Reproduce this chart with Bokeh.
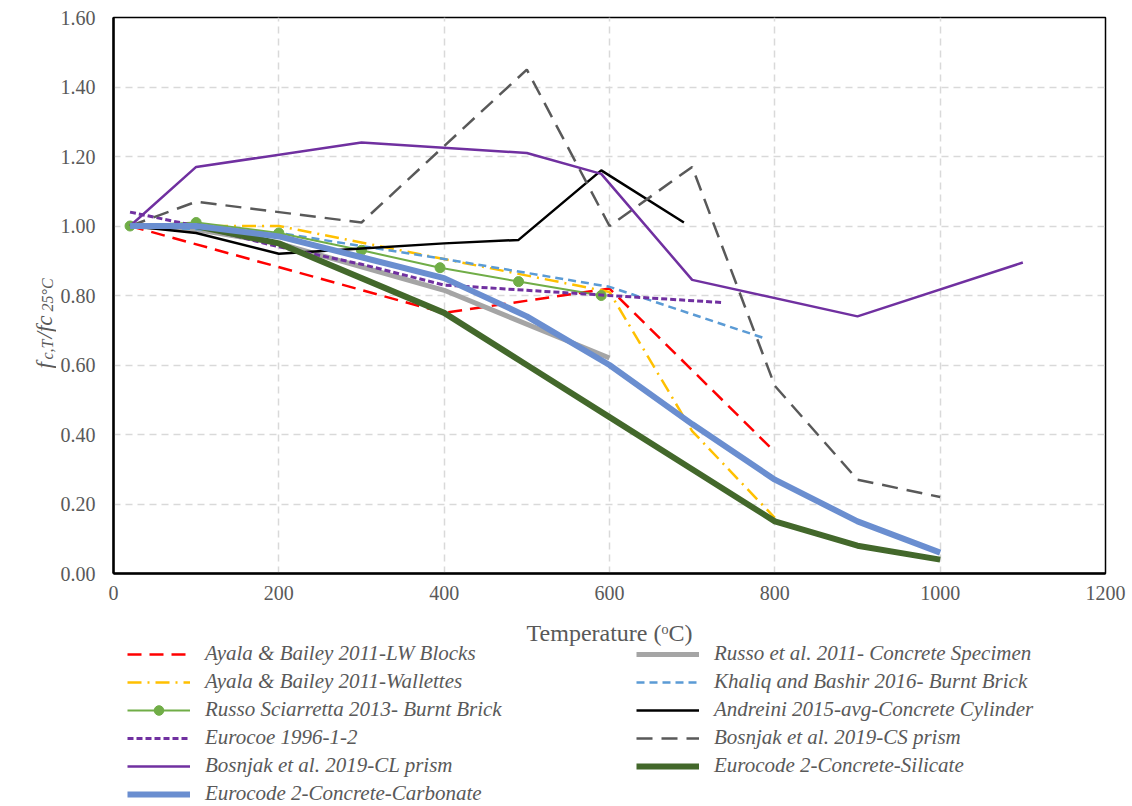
from math import pi

from bokeh.core.properties import value
from bokeh.embed import file_html
from bokeh.layouts import column, row
from bokeh.models import (ColumnDataSource, FixedTicker, Legend, LegendItem,
                          NumeralTickFormatter, Range1d)
from bokeh.plotting import figure
from bokeh.resources import INLINE

# Relative compressive strength f_c,T / f_c,25°C against temperature (°C)
ayala_lw_t = [20, 400, 600, 800]
ayala_lw_r = [1.00, 0.75, 0.82, 0.35]

russo_2011_t = [20, 100, 200, 400, 600]
russo_2011_r = [1.00, 0.99, 0.95, 0.815, 0.62]

ayala_wal_t = [20, 200, 600, 700, 800]
ayala_wal_r = [1.00, 1.00, 0.81, 0.41, 0.16]

khaliq_t = [20, 200, 400, 600, 790]
khaliq_r = [1.00, 0.98, 0.905, 0.825, 0.675]

russo_sc_t = [20, 100, 200, 300, 395, 490, 590]
russo_sc_r = [1.00, 1.01, 0.98, 0.93, 0.88, 0.84, 0.80]

andreini_t = [20, 100, 200, 300, 400, 490, 590, 690]
andreini_r = [1.00, 0.98, 0.92, 0.935, 0.95, 0.96, 1.16, 1.01]

eurocoe_t = [20, 100, 200, 300, 400, 500, 600, 735]
eurocoe_r = [1.04, 1.00, 0.94, 0.89, 0.83, 0.815, 0.80, 0.78]

bosnjak_cs_t = [20, 100, 300, 500, 600, 700, 800, 900, 1000]
bosnjak_cs_r = [1.00, 1.07, 1.01, 1.45, 1.00, 1.17, 0.54, 0.27, 0.22]

bosnjak_cl_t = [20, 100, 300, 500, 590, 700, 900, 1100]
bosnjak_cl_r = [1.00, 1.17, 1.24, 1.21, 1.15, 0.845, 0.74, 0.895]

ec2_t = [20, 100, 200, 300, 400, 500, 600, 700, 800, 900, 1000]
ec2_silicate_r = [1.00, 1.00, 0.95, 0.85, 0.75, 0.60, 0.45, 0.30, 0.15, 0.08, 0.04]
ec2_carbonate_r = [1.00, 1.00, 0.97, 0.91, 0.85, 0.74, 0.60, 0.43, 0.27, 0.15, 0.06]

x_ticks = [0, 200, 400, 600, 800, 1000, 1200]
y_ticks = [0.0, 0.2, 0.4, 0.6, 0.8, 1.0, 1.2, 1.4, 1.6]

x_title = "Temperature (ᵒC)"
# f_{c,T}/fc_{25°C}, pieces read bottom to top (text, subscript?)
y_title_parts = [("f", False), ("c,T", True), ("/fc", False), ("25°C", True)]

# series styles and legend labels, in drawing order
series = [
    ("Ayala & Bailey 2011-LW Blocks", ayala_lw_t, ayala_lw_r,
     dict(line_color="#FF0000", line_width=2.5, line_dash="14 8")),
    ("Russo et al. 2011- Concrete Specimen", russo_2011_t, russo_2011_r,
     dict(line_color="#A5A5A5", line_width=5)),
    ("Ayala & Bailey 2011-Wallettes", ayala_wal_t, ayala_wal_r,
     dict(line_color="#FFC000", line_width=2.5, line_dash="14 6 2 6")),
    ("Khaliq and Bashir 2016- Burnt Brick", khaliq_t, khaliq_r,
     dict(line_color="#5B9BD5", line_width=2.5, line_dash="8 5")),
    ("Russo Sciarretta 2013- Burnt Brick", russo_sc_t, russo_sc_r,
     dict(line_color="#70AD47", line_width=2)),
    ("Andreini 2015-avg-Concrete Cylinder", andreini_t, andreini_r,
     dict(line_color="black", line_width=2.5)),
    ("Eurocoe 1996-1-2", eurocoe_t, eurocoe_r,
     dict(line_color="#7030A0", line_width=3, line_dash="6 3")),
    ("Bosnjak et al. 2019-CS prism", bosnjak_cs_t, bosnjak_cs_r,
     dict(line_color="#595959", line_width=2.5, line_dash="16 9")),
    ("Bosnjak et al. 2019-CL prism", bosnjak_cl_t, bosnjak_cl_r,
     dict(line_color="#7030A0", line_width=2.5)),
    ("Eurocode 2-Concrete-Silicate", ec2_t, ec2_silicate_r,
     dict(line_color="#43682B", line_width=6)),
    ("Eurocode 2-Concrete-Carbonate", ec2_t, ec2_carbonate_r,
     dict(line_color="#6A8ED0", line_width=6)),
]
MARKED = "Russo Sciarretta 2013- Burnt Brick"

SERIF = "Liberation Serif"
TEXT_GREY = "#595959"

TOTAL_W, TOTAL_H = 1132, 806
TITLE_W = 56      # strip holding the rotated y-axis title
MAIN_H = 610      # plot frame + x tick labels
KEY_H = TOTAL_H - MAIN_H   # x-axis title + legend
FRAME_LEFT, FRAME_RIGHT = 113, 1105


def bare_figure(width, height, x_range):
    f = figure(
        width=width, height=height,
        x_range=x_range, y_range=Range1d(0, height),
        x_axis_location=None, y_axis_location=None,
        output_backend="svg", toolbar_location=None,
        min_border=0, min_border_left=0, min_border_right=0,
        min_border_top=0, min_border_bottom=0,
    )
    f.grid.visible = False
    f.outline_line_color = None
    return f


# ---------------------------------------------------------------- chart
p = figure(
    width=TOTAL_W - TITLE_W, height=MAIN_H,
    x_range=Range1d(0, 1200), y_range=Range1d(0, 1.6),
    output_backend="svg", toolbar_location=None,
    min_border_left=FRAME_LEFT - TITLE_W, min_border_right=TOTAL_W - FRAME_RIGHT,
    min_border_top=17, min_border_bottom=MAIN_H - 573,
)
p.outline_line_color = "black"
p.outline_line_width = 1.5

for g in (p.xgrid, p.ygrid):
    g.grid_line_color = "#d9d9d9"
    g.grid_line_dash = "7 5"
    g.grid_line_width = 1.5
p.xgrid.ticker = FixedTicker(ticks=x_ticks)
p.ygrid.ticker = FixedTicker(ticks=y_ticks)

p.xaxis.ticker = FixedTicker(ticks=x_ticks)
p.yaxis.ticker = FixedTicker(ticks=y_ticks)
p.yaxis.formatter = NumeralTickFormatter(format="0.00")
for ax in (p.xaxis, p.yaxis):
    ax.axis_line_color = "black"
    ax.axis_line_width = 2.5
    ax.major_tick_out = 0
    ax.major_tick_in = 0
    ax.minor_tick_out = 0
    ax.minor_tick_in = 0
    ax.major_label_text_font = SERIF
    ax.major_label_text_font_size = "20px"
    ax.major_label_text_color = TEXT_GREY
p.xaxis.major_label_standoff = 12
p.yaxis.major_label_standoff = 18

for label, t, r, style in series:
    p.line(t, r, **style)
    if label == MARKED:
        p.scatter(t, r, size=10, fill_color=style["line_color"],
                  line_color=style["line_color"])

# ---------------------------------------------------------------- x title + legend strip
# its frame lines up with the chart frame, so x here is the page x
key = bare_figure(TOTAL_W - TITLE_W, KEY_H, Range1d(FRAME_LEFT, FRAME_RIGHT))
key.text(
    x=[(FRAME_LEFT + FRAME_RIGHT) / 2], y=[TOTAL_H - 632], text=[x_title],
    text_font=value(SERIF), text_font_size="24px", text_color=TEXT_GREY,
    text_align="center", text_baseline="middle",
)

# legend keys: hidden copies of the series, so only the swatches show
items = []
for label, t, r, style in series:
    rends = [key.line(t, r, visible=False, **style)]
    if label == MARKED:
        rends.append(key.scatter(t, r, size=10, visible=False,
                                 fill_color=style["line_color"],
                                 line_color=style["line_color"]))
    items.append(LegendItem(label=label, renderers=rends))

legend = Legend(
    items=items, orientation="horizontal", ncols=2,
    location=(127 - FRAME_LEFT, 0), margin=0, padding=0, spacing=3,
    glyph_width=63, glyph_height=24, label_height=24, label_width=428,
    label_standoff=15,
    label_text_font=SERIF, label_text_font_style="italic",
    label_text_font_size="21px", label_text_color=TEXT_GREY,
    border_line_color=None, background_fill_color=None,
    inactive_fill_alpha=0,
)
key.add_layout(legend)

# ---------------------------------------------------------------- y-axis title strip
ytitle = bare_figure(TITLE_W, TOTAL_H, Range1d(0, TITLE_W))
starts = [368, 359, 338, 311]          # where each piece begins, from the top
ys, xs, sizes, texts = [], [], [], []
for (txt, sub), start in zip(y_title_parts, starts):
    texts.append(txt)
    ys.append(TOTAL_H - start)
    xs.append(47 if sub else 44)
    sizes.append("16px" if sub else "23px")
title_src = ColumnDataSource(dict(text=texts, x=xs, y=ys, size=sizes))
ytitle.text(
    x="x", y="y", text="text", source=title_src, angle=pi / 2,
    text_font=value(SERIF), text_font_style="italic", text_font_size="size",
    text_color=TEXT_GREY, text_align="left", text_baseline="alphabetic",
)

layout = row(ytitle, column(p, key, spacing=0), spacing=0)
open("out.html", "w").write(file_html(layout, INLINE))
